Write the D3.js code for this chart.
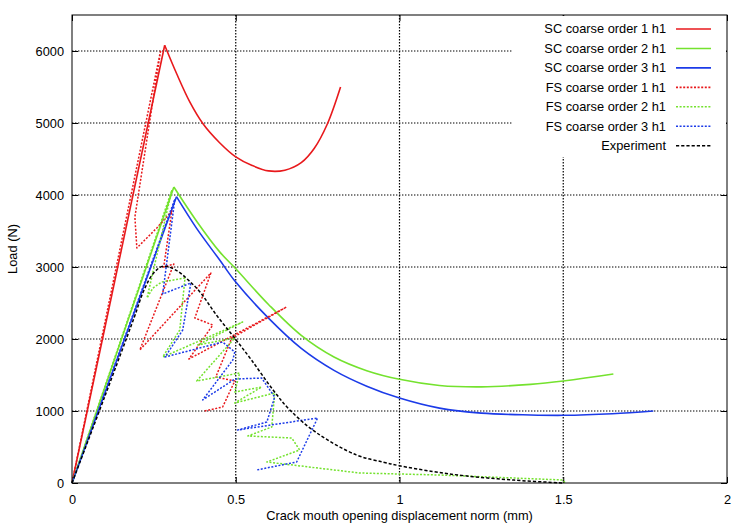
<!DOCTYPE html>
<html>
<head>
<meta charset="utf-8">
<script src="https://cdn.jsdelivr.net/npm/d3@7"></script>
<style>
  html, body { margin: 0; padding: 0; background: #fff; }
  svg { display: block; font-family: "Liberation Sans", Arial, Helvetica, sans-serif; }
</style>
</head>
<body>
<svg id="chart" width="750" height="525"></svg>
<script>
// ---------------- data ----------------
const xTicks = [0, 0.5, 1, 1.5, 2];
const yTicks = [0, 1000, 2000, 3000, 4000, 5000, 6000];
const xTickLabels = ["0", "0.5", "1", "1.5", "2"];
const yTickLabels = ["0", "1000", "2000", "3000", "4000", "5000", "6000"];
const xTitle = "Crack mouth opening displacement norm (mm)";
const yTitle = "Load (N)";

const seriesNames = [
  "SC coarse order 1 h1", "SC coarse order 2 h1", "SC coarse order 3 h1",
  "FS coarse order 1 h1", "FS coarse order 2 h1", "FS coarse order 3 h1",
  "Experiment"
];

// [crack mouth opening (mm), load (N)]
const scOrder1 = [[0,0],[0.283,6080],[0.32,5680],[0.36,5290],[0.40,4990],[0.45,4730],[0.5,4530],
  [0.55,4410],[0.6,4335],[0.65,4345],[0.70,4450],[0.74,4650],[0.78,4990],[0.82,5500]];
const scOrder2 = [[0,0],[0.311,4111],[0.38,3640],[0.451,3210],[0.5,2975],[0.6,2480],[0.7,2050],
  [0.8,1750],[0.9,1560],[1.0,1440],[1.122,1355],[1.25,1335],[1.4,1370],[1.5,1417],[1.653,1514]];
const scOrder3 = [[0,0],[0.319,3977],[0.38,3540],[0.451,3097],[0.5,2790],[0.6,2290],[0.7,1870],
  [0.8,1565],[0.9,1345],[1.0,1180],[1.122,1040],[1.25,970],[1.4,945],[1.5,940],[1.65,962],[1.775,1000]];

const fsOrder1 = [[0,0],[0.271,6014],[0.192,3694],[0.198,3264],[0.259,3542],[0.305,3778],[0.280,3000],
  [0.311,3042],[0.207,1847],[0.424,2917],[0.375,2292],[0.430,2194],[0.357,1722],[0.655,2444],
  [0.488,2014],[0.439,1472],[0.497,1417],[0.460,1056],[0.405,1000]];
const fsOrder2 = [[0,0],[0.305,4069],[0.229,2569],[0.247,2708],[0.274,2792],[0.345,2847],[0.329,2125],
  [0.277,1750],[0.521,2236],[0.384,1917],[0.497,2014],[0.381,1417],[0.512,1528],[0.497,1264],
  [0.579,1333],[0.497,1111],[0.619,1250],[0.610,778],[0.537,653],[0.671,625],[0.695,458],
  [0.595,292],[0.878,139],[1.122,111],[1.497,42],[1.506,5]];
const fsOrder3 = [[0,0],[0.314,3944],[0.277,2625],[0.363,2778],[0.338,2125],[0.284,1750],[0.460,1958],
  [0.497,1819],[0.491,1708],[0.399,1153],[0.497,1444],[0.579,1458],[0.619,1194],[0.595,847],
  [0.506,736],[0.750,903],[0.686,292],[0.564,181]];
const experiment = [[0,0],[0.1,1200],[0.19,2300],[0.22,2680],[0.25,2920],[0.278,3010],[0.32,2950],
  [0.355,2819],[0.39,2657],[0.441,2333],[0.497,2010],[0.548,1708],[0.614,1292],[0.665,1014],
  [0.746,700],[0.868,390],[0.95,290],[1.0,240],[1.1,160],[1.2,100],[1.35,40],[1.5,0]];

// ---------------- layout & styles ----------------
const W = 750, H = 525;
const plot = { left: 72, right: 727, top: 15, bottom: 483 };
const RED = "#e8191c", GREEN = "#74e22e", BLUE = "#1c3be8", BLACK = "#000";
const styles = [
  { color: RED,   dash: null,    type: "sc" },
  { color: GREEN, dash: null,    type: "sc" },
  { color: BLUE,  dash: null,    type: "sc" },
  { color: RED,   dash: "2,1.6", type: "fs" },
  { color: GREEN, dash: "2,1.6", type: "fs" },
  { color: BLUE,  dash: "2,1.6", type: "fs" },
  { color: BLACK, dash: "3.2,2", type: "exp" }
];
const seriesData = [scOrder1, scOrder2, scOrder3, fsOrder1, fsOrder2, fsOrder3, experiment];

const svg = d3.select("#chart");
const x = d3.scaleLinear().domain([0, 2]).range([plot.left, plot.right]);
const y = d3.scaleLinear().domain([0, 6500]).range([plot.bottom, plot.top]);

// grid (dotted)
const grid = svg.append("g").attr("stroke", "#000").attr("stroke-width", 1.2)
  .attr("stroke-dasharray", "1.4,1.6");
grid.selectAll("line.gx").data(xTicks.filter(d => d > 0 && d < 2)).join("line")
  .attr("x1", d => x(d)).attr("x2", d => x(d)).attr("y1", plot.top).attr("y2", plot.bottom);
grid.selectAll("line.gy").data(yTicks.filter(d => d > 0)).join("line")
  .attr("x1", plot.left).attr("x2", plot.right).attr("y1", d => y(d)).attr("y2", d => y(d));

// axes with inward ticks (gnuplot style, mirrored)
const fontSize = 12.8;
const axB = d3.axisBottom(x).tickValues(xTicks).tickSizeInner(-6).tickSizeOuter(0)
  .tickFormat((d, i) => xTickLabels[i]);
const axL = d3.axisLeft(y).tickValues(yTicks).tickSizeInner(-6).tickSizeOuter(0)
  .tickFormat((d, i) => yTickLabels[i]);
const axT = d3.axisTop(x).tickValues(xTicks).tickSizeInner(-6).tickSizeOuter(0).tickFormat("");
const axR = d3.axisRight(y).tickValues(yTicks).tickSizeInner(-6).tickSizeOuter(0).tickFormat("");

function styleAxis(g) {
  g.select(".domain").remove();
  g.selectAll(".tick line").attr("stroke", "#000").attr("stroke-width", 1);
  g.selectAll(".tick text").attr("fill", "#000").attr("font-size", fontSize)
   .attr("font-family", "'Liberation Sans', Arial, sans-serif");
}
const gB = svg.append("g").attr("transform", `translate(0,${plot.bottom})`).call(axB).call(styleAxis);
gB.selectAll(".tick text").attr("y", 12).attr("dy", "0.71em");
const gL = svg.append("g").attr("transform", `translate(${plot.left},0)`).call(axL).call(styleAxis);
gL.selectAll(".tick text").attr("x", -8);
svg.append("g").attr("transform", `translate(0,${plot.top})`).call(axT).call(styleAxis);
svg.append("g").attr("transform", `translate(${plot.right},0)`).call(axR).call(styleAxis);

// series
const lineLin = d3.line().x(d => x(d[0])).y(d => y(d[1]));
const lineSmooth = d3.line().x(d => x(d[0])).y(d => y(d[1])).curve(d3.curveCatmullRom.alpha(0.5));
const gS = svg.append("g").attr("fill", "none");
seriesData.forEach((data, i) => {
  const st = styles[i];
  if (st.type === "sc") {
    gS.append("path").attr("d", lineLin(data.slice(0, 2)))
      .attr("stroke", st.color).attr("stroke-width", 1.6);
    gS.append("path").attr("d", lineSmooth(data.slice(1)))
      .attr("stroke", st.color).attr("stroke-width", 1.6);
  } else if (st.type === "fs") {
    gS.append("path").attr("d", lineLin(data))
      .attr("stroke", st.color).attr("stroke-width", 1.5)
      .attr("stroke-dasharray", st.dash).attr("stroke-linejoin", "round");
  } else {
    gS.append("path").attr("d", lineSmooth(data))
      .attr("stroke", st.color).attr("stroke-width", 1.5)
      .attr("stroke-dasharray", st.dash);
  }
});

// legend (opaque box inside top right)
const lg = svg.append("g");
lg.append("rect").attr("x", 512).attr("y", plot.top + 1).attr("width", plot.right - 512 - 1)
  .attr("height", 141).attr("fill", "#fff");
seriesNames.forEach((name, i) => {
  const yy = 29 + i * 19.45;
  lg.append("text").attr("x", 666).attr("y", yy).attr("dy", "0.35em")
    .attr("text-anchor", "end").attr("font-size", fontSize).attr("fill", "#000").text(name);
  lg.append("line").attr("x1", 676).attr("x2", 711).attr("y1", yy).attr("y2", yy)
    .attr("stroke", styles[i].color).attr("stroke-width", 1.6)
    .attr("stroke-dasharray", styles[i].dash);
});

// frame
svg.append("rect").attr("x", plot.left).attr("y", plot.top)
  .attr("width", plot.right - plot.left).attr("height", plot.bottom - plot.top)
  .attr("fill", "none").attr("stroke", "#000").attr("stroke-width", 1);

// titles
svg.append("text").attr("x", (plot.left + plot.right) / 2).attr("y", 519.5)
  .attr("text-anchor", "middle").attr("font-size", fontSize).attr("fill", "#000").text(xTitle);
svg.append("text").attr("transform", `translate(17,${(plot.top + plot.bottom) / 2}) rotate(-90)`)
  .attr("text-anchor", "middle").attr("font-size", fontSize).attr("fill", "#000").text(yTitle);
</script>
</body>
</html>
